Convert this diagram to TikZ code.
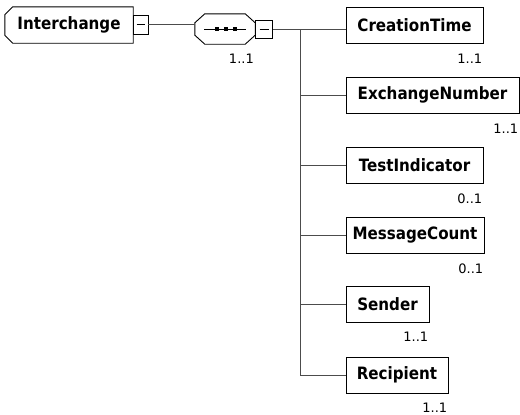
\documentclass[tikz,border=0pt]{standalone}
\usepackage{fontspec}
\setmainfont{DejaVu Sans}
\newfontfamily\elemfont{DejaVu Sans}[FakeStretch=0.89]
\usetikzlibrary{calc}
\begin{document}
\begin{tikzpicture}[x=1pt,y=-1pt,
  elemtext/.style={font=\elemfont\fontsize{17}{20}\selectfont\bfseries},
  elem/.style={draw=black,line width=0.9pt,rectangle,minimum height=36pt,inner sep=0pt,elemtext},
  minusbox/.style={draw=black,line width=0.7pt,rectangle,inner sep=0pt,minimum width=15pt,minimum height=19pt},
  card/.style={anchor=base east,inner sep=0pt,font=\fontsize{13}{15}\selectfont},
  conn/.style={draw=black!70,line width=0.8pt},
  outl/.style={draw=black,line width=0.9pt}]
\useasboundingbox (0,0) rectangle (520,415);
\fill[white] (0,0) rectangle (520,415);
% root element
\node[rectangle,minimum height=36pt,minimum width=128pt,inner sep=0pt,elemtext] (ic) at (69,25) {Interchange};
\draw[outl] ($(ic.north west)+(8,0)$) -- (ic.north east) -- (ic.south east)
  -- ($(ic.south west)+(8,0)$) -- ($(ic.south west)+(0,-8)$) -- ($(ic.north west)+(0,8)$) -- cycle;
\node[minusbox] (icm) at (140.5,24.5) {};
\draw[line width=0.7pt] ($(icm.center)+(-4,0)$) -- ($(icm.center)+(4,0)$);
% sequence compositor
\node[rectangle,minimum width=60pt,minimum height=30pt,inner sep=0pt] (seq) at (225,29) {};
\draw[outl] ($(seq.north west)+(10,0)$) -- ($(seq.north east)+(-10,0)$) -- ($(seq.north east)+(0,9)$)
  -- ($(seq.south east)+(0,-9)$) -- ($(seq.south east)+(-10,0)$) -- ($(seq.south west)+(10,0)$)
  -- ($(seq.south west)+(0,-9)$) -- ($(seq.north west)+(0,9)$) -- cycle;
\draw[line width=0.8pt] ($(seq.center)+(-21,0)$) -- ($(seq.center)+(21,0)$);
\foreach \dx in {-8,1,10}{\fill ($(seq.center)+(\dx-1.8,-1.8)$) rectangle ++(3.6,3.6);}
\node[minusbox,minimum width=17pt,minimum height=18pt] (seqm) at (264,29) {};
\draw[line width=0.7pt] ($(seqm.center)+(-4.5,0)$) -- ($(seqm.center)+(4.5,0)$);
\node[card] (seqc) at (254,63) {1..1};
% children
\node[elem,minimum width=137pt] (ct) at (414.5,25) {CreationTime};
\node[elem,minimum width=173pt] (en) at (432.5,95) {ExchangeNumber};
\node[elem,minimum width=137pt] (ti) at (414.5,165) {TestIndicator};
\node[elem,minimum width=138pt] (mc) at (415,235) {MessageCount};
\node[elem,minimum width=83pt] (se) at (387.5,304.5) {Sender};
\node[elem,minimum width=102pt] (re) at (397,375) {Recipient};
\node[card] (ctc) at ($(ct.south east)+(-1,20)$) {1..1};
\node[card] (enc) at ($(en.south east)+(-1,20)$) {1..1};
\node[card] (tic) at ($(ti.south east)+(-1,20)$) {0..1};
\node[card] (mcc) at ($(mc.south east)+(-1,20)$) {0..1};
\node[card] (sec) at ($(se.south east)+(-1,19)$) {1..1};
\node[card] (rec) at ($(re.south east)+(-1,19)$) {1..1};
% connectors
\draw[conn] (icm.east) -- (icm.east -| seq.west);
\coordinate (bus) at (300,29);
\draw[conn] (seqm.east) -- (seqm.east -| ct.west);
\draw[conn] (bus) -- (bus |- re.west);
\foreach \n in {en,ti,mc,se,re}{\draw[conn] (bus |- \n.west) -- (\n.west);}
\end{tikzpicture}
\end{document}
